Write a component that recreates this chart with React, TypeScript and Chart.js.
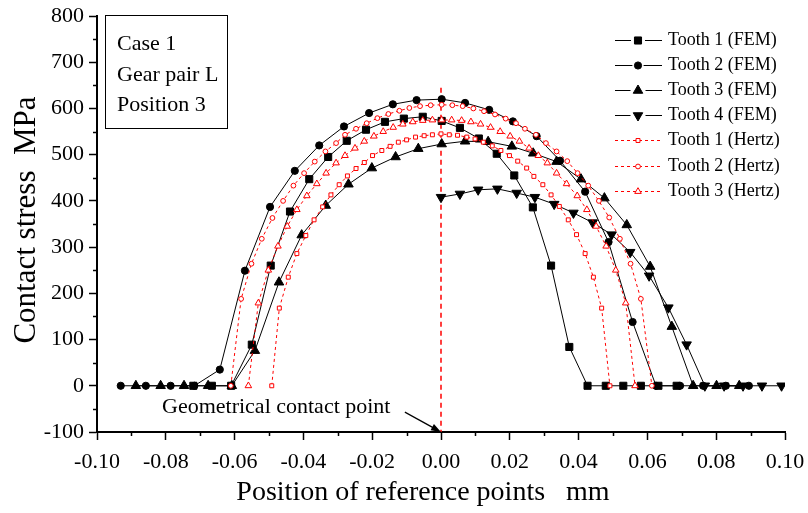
import React, { useEffect, useRef } from 'react';
import { Chart, registerables } from 'chart.js';
import * as helpers from 'chart.js/helpers';

Chart.register(...registerables);

const FONT = '"Liberation Serif", "Times New Roman", serif';

// ---- Data ----
const seriesLabels = [
  'Tooth 1 (FEM)',
  'Tooth 2 (FEM)',
  'Tooth 3 (FEM)',
  'Tooth 4 (FEM)',
  'Tooth 1 (Hertz)',
  'Tooth 2 (Hertz)',
  'Tooth 3 (Hertz)',
];

const tooth1FemX = [-0.0720, -0.0666, -0.0610, -0.0550, -0.0495, -0.0439, -0.0383, -0.0328, -0.0274, -0.0218, -0.0163, -0.0108, -0.0053, 0.0002, 0.0055, 0.0110, 0.0162, 0.0213, 0.0267, 0.0320, 0.0373, 0.0426, 0.0479, 0.0530, 0.0581, 0.0632, 0.0685];
const tooth1FemY = [0, 0, 0, 89, 260, 377, 447, 495, 530, 554, 571, 578, 582, 573, 558, 535, 502, 455, 386, 260, 84, 0, 0, 0, 0, 0, 0];

const tooth2FemX = [-0.0931, -0.0858, -0.0786, -0.0717, -0.0643, -0.0570, -0.0497, -0.0425, -0.0354, -0.0282, -0.0209, -0.0140, -0.0071, 0.0002, 0.0070, 0.0140, 0.0209, 0.0278, 0.0346, 0.0419, 0.0487, 0.0557, 0.0625, 0.0695, 0.0762, 0.0828, 0.0895];
const tooth2FemY = [0, 0, 0, 0, 35, 249, 387, 465, 520, 561, 590, 609, 618, 620, 612, 597, 572, 540, 487, 420, 311, 138, 0, 0, 0, 0, 0];

const tooth3FemX = [-0.0887, -0.0815, -0.0747, -0.0677, -0.0608, -0.0541, -0.0471, -0.0405, -0.0335, -0.0269, -0.0201, -0.0132, -0.0066, 0.0002, 0.0070, 0.0137, 0.0206, 0.0268, 0.0336, 0.0407, 0.0475, 0.0540, 0.0608, 0.0671, 0.0733, 0.0801, 0.0867];
const tooth3FemY = [0, 0, 0, 0, 0, 76, 224, 326, 390, 436, 471, 495, 513, 523, 529, 528, 518, 503, 485, 447, 406, 348, 258, 128, 0, 0, 0];

const tooth4FemX = [0.0000, 0.0055, 0.0108, 0.0164, 0.0220, 0.0273, 0.0329, 0.0385, 0.0441, 0.0496, 0.0550, 0.0605, 0.0661, 0.0714, 0.0767, 0.0823, 0.0878, 0.0933, 0.0990];
const tooth4FemY = [408, 415, 424, 426, 417, 408, 393, 374, 353, 327, 289, 238, 169, 89, 0, 0, 0, 0, 0];

const tooth1HertzX = [-0.0492, -0.0470, -0.0444, -0.0419, -0.0393, -0.0369, -0.0344, -0.0320, -0.0296, -0.0272, -0.0247, -0.0223, -0.0199, -0.0172, -0.0148, -0.0124, -0.0100, -0.0074, -0.0049, -0.0025, 0.0000, 0.0024, 0.0048, 0.0075, 0.0099, 0.0123, 0.0149, 0.0174, 0.0199, 0.0223, 0.0249, 0.0270, 0.0296, 0.0320, 0.0344, 0.0370, 0.0394, 0.0419, 0.0443, 0.0467, 0.0491];
const tooth1HertzY = [0, 168, 235, 286, 325, 359, 387, 413, 435, 454, 470, 483, 498, 509, 518, 527, 532, 538, 541, 543, 545, 543, 542, 538, 534, 527, 519, 509, 498, 486, 471, 453, 435, 413, 388, 359, 327, 286, 235, 168, 0];

const tooth2HertzX = [-0.0611, -0.0581, -0.0551, -0.0521, -0.0490, -0.0459, -0.0429, -0.0398, -0.0367, -0.0336, -0.0305, -0.0279, -0.0247, -0.0216, -0.0185, -0.0153, -0.0121, -0.0092, -0.0061, -0.0030, 0.0002, 0.0033, 0.0063, 0.0094, 0.0125, 0.0157, 0.0188, 0.0218, 0.0244, 0.0276, 0.0305, 0.0336, 0.0367, 0.0397, 0.0428, 0.0459, 0.0489, 0.0520, 0.0551, 0.0581, 0.0613];
const tooth2HertzY = [0, 188, 264, 318, 363, 400, 433, 460, 485, 507, 525, 543, 556, 568, 579, 588, 595, 601, 605, 607, 608, 607, 605, 600, 594, 587, 578, 568, 556, 543, 525, 507, 486, 460, 433, 400, 364, 318, 264, 188, 0];

const tooth3HertzX = [-0.0560, -0.0531, -0.0502, -0.0474, -0.0447, -0.0419, -0.0390, -0.0361, -0.0334, -0.0305, -0.0279, -0.0250, -0.0223, -0.0195, -0.0168, -0.0139, -0.0111, -0.0082, -0.0053, -0.0025, 0.0002, 0.0031, 0.0060, 0.0087, 0.0115, 0.0144, 0.0172, 0.0201, 0.0228, 0.0256, 0.0283, 0.0309, 0.0336, 0.0365, 0.0396, 0.0424, 0.0451, 0.0480, 0.0508, 0.0537, 0.0564];
const tooth3HertzY = [0, 179, 250, 302, 345, 381, 411, 437, 460, 482, 498, 514, 529, 540, 550, 559, 566, 571, 574, 575, 575, 575, 574, 571, 566, 559, 550, 540, 529, 514, 498, 482, 460, 437, 411, 381, 345, 302, 250, 179, 0];

// geometrical contact line (x = 0)
const contactLineX = [0, 0];
const contactLineY = [645, -100];

// axis ticks
const xMin = -0.1;
const xMax = 0.1;
const xStep = 0.02;
const yMin = -100;
const yMax = 800;
const yStep = 100;
const xMinorTicks = [-0.09, -0.07, -0.05, -0.03, -0.01, 0.01, 0.03, 0.05, 0.07, 0.09];
const yMinorTicks = [-50, 50, 150, 250, 350, 450, 550, 650, 750];

const xTitle = 'Position of reference points   mm';
const yTitle = 'Contact stress  MPa';
const boxLines = ['Case 1', 'Gear pair L', 'Position 3'];
const annotationText = 'Geometrical contact point';
const annotationTextPos = { x: -0.0811, y: -47 };
const annotationArrowFrom = { x: -0.0105, y: -57 };
const annotationArrowTo = { x: 0, y: -100 };

const pts = (xs: number[], ys: number[]) => xs.map((x, i) => ({ x, y: ys[i] }));

function femDataset(label: string, xs: number[], ys: number[], style: string, radius: number, rotation: number, order: number) {
  return {
    label,
    data: pts(xs, ys),
    showLine: true,
    borderColor: '#000',
    backgroundColor: '#000',
    borderWidth: 1,
    pointStyle: style,
    pointRadius: radius,
    pointHoverRadius: radius,
    pointRotation: rotation,
    pointBackgroundColor: '#000',
    pointBorderColor: '#000',
    pointBorderWidth: 1,
    tension: 0,
    order,
  };
}

function hertzDataset(label: string, xs: number[], ys: number[], style: string, radius: number, order: number) {
  return {
    label,
    data: pts(xs, ys),
    showLine: true,
    borderColor: '#ff0000',
    backgroundColor: '#ffffff',
    borderWidth: 1,
    borderDash: [3, 3],
    pointStyle: style,
    pointRadius: radius,
    pointHoverRadius: radius,
    pointRotation: 0,
    pointBackgroundColor: '#ffffff',
    pointBorderColor: '#ff0000',
    pointBorderWidth: 1,
    tension: 0,
    order,
  };
}

const decorPlugin = {
  id: 'decor',
  afterDraw(chart: any) {
    const ctx = chart.ctx as CanvasRenderingContext2D;
    const xs = chart.scales.x;
    const ys = chart.scales.y;
    const area = chart.chartArea;
    ctx.save();

    // minor ticks
    ctx.strokeStyle = '#000';
    ctx.lineWidth = 1.5;
    ctx.setLineDash([]);
    ctx.beginPath();
    yMinorTicks.forEach((v) => {
      const py = Math.round(ys.getPixelForValue(v)) + 0.5;
      ctx.moveTo(area.left - 4, py);
      ctx.lineTo(area.left, py);
    });
    xMinorTicks.forEach((v) => {
      const px = Math.round(xs.getPixelForValue(v)) + 0.5;
      ctx.moveTo(px, area.bottom);
      ctx.lineTo(px, area.bottom + 4);
    });
    ctx.stroke();

    // axis titles
    ctx.fillStyle = '#000';
    ctx.font = `28px ${FONT}`;
    ctx.textAlign = 'center';
    ctx.textBaseline = 'middle';
    ctx.fillText(xTitle, 423, 493);
    ctx.save();
    ctx.translate(27, 220);
    ctx.rotate(-Math.PI / 2);
    ctx.font = `31px ${FONT}`;
    ctx.fillText(yTitle, 0, 0);
    ctx.restore();

    // legend
    const legX0 = 615;
    const legX1 = 662;
    const legMid = 638;
    chart.data.datasets.forEach((ds: any, i: number) => {
      if (i >= seriesLabels.length) return;
      const y = Math.round(39.5 + i * 25.2) + 0.5;
      ctx.strokeStyle = ds.borderColor;
      ctx.lineWidth = ds.borderWidth;
      ctx.setLineDash(ds.borderDash || []);
      ctx.beginPath();
      if (ds.borderDash) {
        ctx.moveTo(legX0, y);
        ctx.lineTo(legX1, y);
      } else {
        const gap = ds.pointRadius + 2;
        ctx.moveTo(legX0, y);
        ctx.lineTo(legMid - gap, y);
        ctx.moveTo(legMid + gap, y);
        ctx.lineTo(legX1, y);
      }
      ctx.stroke();
      ctx.setLineDash([]);
      ctx.fillStyle = ds.pointBackgroundColor;
      ctx.strokeStyle = ds.pointBorderColor;
      ctx.lineWidth = ds.pointBorderWidth;
      (helpers as any).drawPoint(ctx, {
        pointStyle: ds.pointStyle,
        radius: ds.pointRadius,
        rotation: ds.pointRotation,
        borderWidth: ds.pointBorderWidth,
      }, legMid, y);
      ctx.fillStyle = '#000';
      ctx.font = `18px ${FONT}`;
      ctx.textAlign = 'left';
      ctx.textBaseline = 'middle';
      ctx.fillText(ds.label, 668, y);
    });

    // info box
    ctx.strokeStyle = '#000';
    ctx.lineWidth = 1;
    ctx.strokeRect(105.5, 15.5, 122, 113);
    ctx.fillStyle = '#000';
    ctx.font = `22px ${FONT}`;
    ctx.textAlign = 'left';
    ctx.textBaseline = 'alphabetic';
    boxLines.forEach((t, i) => {
      ctx.fillText(t, 117, 50 + i * 30.5);
    });

    // annotation
    ctx.font = `22px ${FONT}`;
    ctx.textBaseline = 'middle';
    ctx.fillText(annotationText, xs.getPixelForValue(annotationTextPos.x), ys.getPixelForValue(annotationTextPos.y));
    const ax0 = xs.getPixelForValue(annotationArrowFrom.x);
    const ay0 = ys.getPixelForValue(annotationArrowFrom.y);
    const ax1 = xs.getPixelForValue(annotationArrowTo.x);
    const ay1 = ys.getPixelForValue(annotationArrowTo.y);
    const ang = Math.atan2(ay1 - ay0, ax1 - ax0);
    ctx.beginPath();
    ctx.lineWidth = 1.2;
    ctx.moveTo(ax0, ay0);
    ctx.lineTo(ax1 - 6 * Math.cos(ang), ay1 - 6 * Math.sin(ang));
    ctx.stroke();
    ctx.beginPath();
    ctx.moveTo(ax1, ay1);
    ctx.lineTo(ax1 - 10 * Math.cos(ang) + 3.5 * Math.sin(ang), ay1 - 10 * Math.sin(ang) - 3.5 * Math.cos(ang));
    ctx.lineTo(ax1 - 10 * Math.cos(ang) - 3.5 * Math.sin(ang), ay1 - 10 * Math.sin(ang) + 3.5 * Math.cos(ang));
    ctx.closePath();
    ctx.fill();

    ctx.restore();
  },
};

export default function App() {
  const canvasRef = useRef<HTMLCanvasElement | null>(null);

  useEffect(() => {
    if (!canvasRef.current) return;
    Chart.defaults.font.family = FONT;
    Chart.defaults.color = '#000';

    const datasets: any[] = [
      femDataset(seriesLabels[0], tooth1FemX, tooth1FemY, 'rect', 5, 0, 10),
      femDataset(seriesLabels[1], tooth2FemX, tooth2FemY, 'circle', 3.6, 0, 9),
      femDataset(seriesLabels[2], tooth3FemX, tooth3FemY, 'triangle', 5.5, 0, 8),
      femDataset(seriesLabels[3], tooth4FemX, tooth4FemY, 'triangle', 5.5, 180, 7),
      hertzDataset(seriesLabels[4], tooth1HertzX, tooth1HertzY, 'rect', 2.8, 6),
      hertzDataset(seriesLabels[5], tooth2HertzX, tooth2HertzY, 'circle', 2.4, 5),
      hertzDataset(seriesLabels[6], tooth3HertzX, tooth3HertzY, 'triangle', 3.8, 4),
      {
        label: 'contact',
        data: pts(contactLineX, contactLineY),
        showLine: true,
        borderColor: '#ff0000',
        borderWidth: 1.5,
        borderDash: [5, 4],
        pointRadius: 0,
        pointHoverRadius: 0,
        order: 20,
      },
    ];

    const chart = new Chart(canvasRef.current, {
      type: 'scatter',
      data: { datasets },
      options: {
        animation: false,
        responsive: false,
        devicePixelRatio: 1,
        events: [],
        layout: { padding: { left: 0, right: 23, top: 16, bottom: 0 } },
        plugins: {
          legend: { display: false },
          tooltip: { enabled: false },
          title: { display: false },
        },
        scales: {
          x: {
            type: 'linear',
            position: 'bottom',
            min: xMin,
            max: xMax,
            afterFit: (s: any) => {
              s.height = 81;
              s.paddingLeft = 0;
              s.paddingRight = 0;
            },
            ticks: {
              stepSize: xStep,
              autoSkip: false,
              maxRotation: 0,
              padding: 9,
              color: '#000',
              font: { family: FONT, size: 22 },
              callback: (v: any) => (Math.abs(Number(v)) < 1e-9 ? '0.00' : Number(v).toFixed(2)),
            },
            grid: {
              display: true,
              drawOnChartArea: false,
              drawTicks: true,
              tickLength: 8,
              tickWidth: 1.5,
              tickColor: '#000',
            },
            border: { display: true, color: '#000', width: 2 },
            title: { display: false },
          },
          y: {
            type: 'linear',
            position: 'left',
            min: yMin,
            max: yMax,
            afterFit: (s: any) => {
              s.width = 97;
              s.paddingTop = 0;
              s.paddingBottom = 0;
            },
            ticks: {
              stepSize: yStep,
              padding: 5,
              color: '#000',
              font: { family: FONT, size: 22 },
              callback: (v: any) => String(Math.round(Number(v))),
            },
            grid: {
              display: true,
              drawOnChartArea: false,
              drawTicks: true,
              tickLength: 8,
              tickWidth: 1.5,
              tickColor: '#000',
            },
            border: { display: true, color: '#000', width: 2 },
            title: { display: false },
          },
        },
      } as any,
      plugins: [decorPlugin],
    });

    return () => {
      chart.destroy();
    };
  }, []);

  return (
    <div style={{ position: 'absolute', left: 0, top: 0, width: 808, height: 513, background: '#fff' }}>
      <canvas ref={canvasRef} width={808} height={513} style={{ width: 808, height: 513, display: 'block' }} />
    </div>
  );
}
